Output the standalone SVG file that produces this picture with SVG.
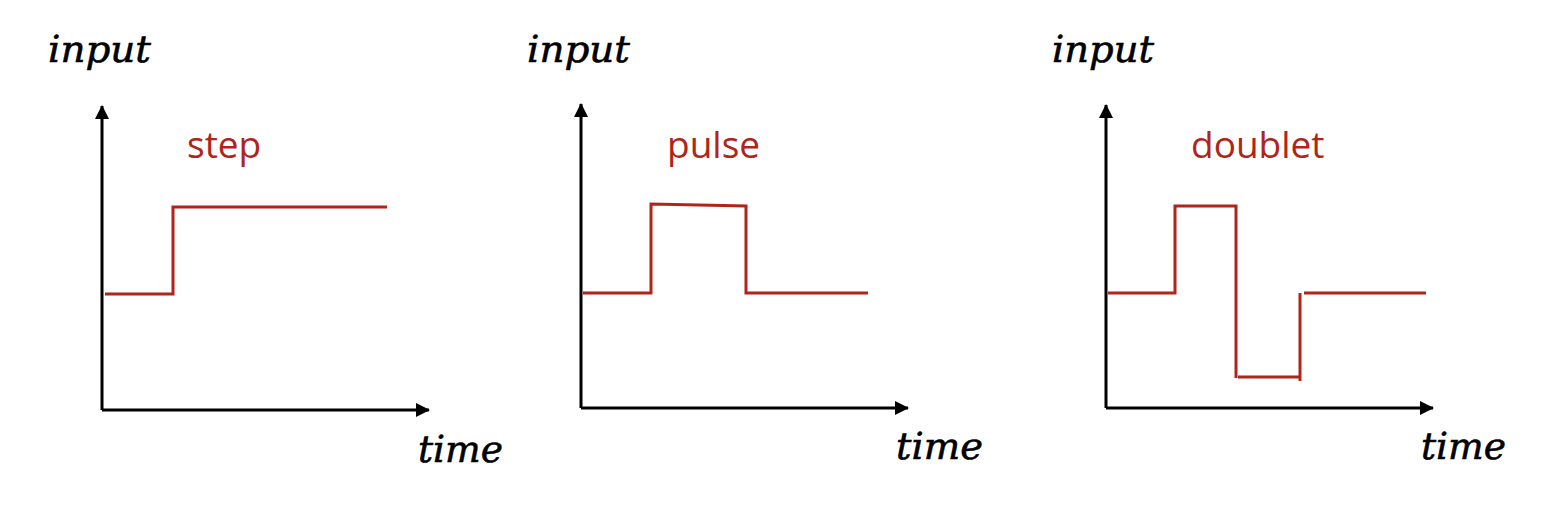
<svg xmlns="http://www.w3.org/2000/svg" width="1548" height="528" viewBox="0 0 1548 528">
<defs>
<marker id="ah" viewBox="0 0 14 14" refX="13" refY="7" markerWidth="14" markerHeight="14" markerUnits="userSpaceOnUse" orient="auto">
<path d="M0,0 L14,7 L0,14 Z" fill="#000"/>
</marker>
</defs>
<style>
.axis{stroke:#000;stroke-width:3;fill:none}
.sig{stroke:#B0251A;stroke-width:3;fill:none;stroke-linejoin:miter}
.math{font-family:"DejaVu Serif","Liberation Serif",serif;font-style:italic;font-size:38px;fill:#000;stroke:#000;stroke-width:0.6}
.lbl{font-family:"Open Sans","Noto Sans",sans-serif;font-size:37px;fill:#B0251A}
</style>
<rect width="1548" height="528" fill="#fff"/>
<g id="connectors">
<path class="axis" d="M102,410 V106" marker-end="url(#ah)"/>
<path class="axis" d="M102,410 H429" marker-end="url(#ah)"/>
<path class="axis" d="M581,408 V104" marker-end="url(#ah)"/>
<path class="axis" d="M581,408 H908" marker-end="url(#ah)"/>
<path class="axis" d="M1106,408 V105" marker-end="url(#ah)"/>
<path class="axis" d="M1106,408 H1433" marker-end="url(#ah)"/>
</g>
<g id="step">
<text class="math" x="48" y="62" textLength="103" lengthAdjust="spacingAndGlyphs">input</text>
<text class="lbl" x="187" y="158">step</text>
<path class="sig" d="M105,294 H173 V207 H387"/>
<text class="math" x="418" y="462" textLength="85" lengthAdjust="spacingAndGlyphs">time</text>
</g>
<g id="pulse">
<text class="math" x="527" y="62" textLength="103" lengthAdjust="spacingAndGlyphs">input</text>
<text class="lbl" x="667" y="158">pulse</text>
<path class="sig" d="M583,293 H651 V204 L746,206 V293 H868"/>
<text class="math" x="896" y="459" textLength="87" lengthAdjust="spacingAndGlyphs">time</text>
</g>
<g id="doublet">
<text class="math" x="1052" y="62" textLength="102" lengthAdjust="spacingAndGlyphs">input</text>
<text class="lbl" x="1191" y="158">doublet</text>
<path class="sig" d="M1108,293 H1175 V206 H1236 V378"/>
<path class="sig" d="M1238,377 H1300"/>
<path class="sig" d="M1300,381 V293"/>
<path class="sig" d="M1304,293 H1426"/>
<text class="math" x="1421" y="459" textLength="85" lengthAdjust="spacingAndGlyphs">time</text>
</g>
</svg>
